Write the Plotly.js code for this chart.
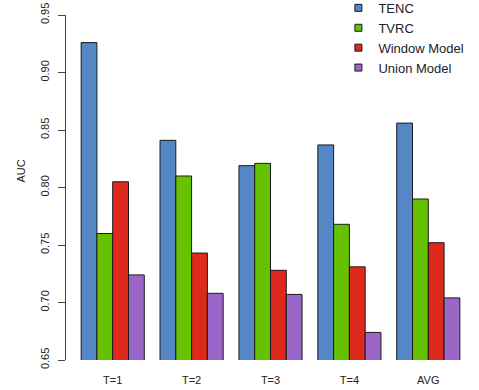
<!DOCTYPE html>
<html>
<head>
<meta charset="utf-8">
<script src="https://cdn.plot.ly/plotly-3.0.1.min.js"></script>
<style>html,body{margin:0;padding:0;background:#fff;}#chart{width:479px;height:390px;}</style>
</head>
<body>
<div id="chart"></div>
<script>
const categories = ["T=1", "T=2", "T=3", "T=4", "AVG"];
const seriesNames = ["TENC", "TVRC", "Window Model", "Union Model"];
const tenc   = [0.926, 0.841, 0.819, 0.837, 0.856];
const tvrc   = [0.760, 0.810, 0.821, 0.768, 0.790];
const window_ = [0.805, 0.743, 0.728, 0.731, 0.752];
const union  = [0.724, 0.708, 0.707, 0.674, 0.704];
const yTicks = [0.65, 0.70, 0.75, 0.80, 0.85, 0.90, 0.95];
const colors = ["#5586C6", "#66C100", "#DD2A1C", "#9A66C8"];

const values = [tenc, tvrc, window_, union];
const traces = [];
values.forEach((v, i) => {
  traces.push({
    type: "bar", x: categories, y: v,
    marker: {color: colors[i], line: {color: "#1a1a1a", width: 1}},
    showlegend: false, hoverinfo: "y"
  });
});
values.forEach((v, i) => {
  traces.push({
    type: "scatter", mode: "markers", x: [null], y: [null], name: seriesNames[i],
    marker: {symbol: "square", size: 7, color: colors[i], line: {color: "#1a1a1a", width: 1}},
    showlegend: true
  });
});

const layout = {
  width: 479, height: 390,
  margin: {l: 65.5, r: 3.5, t: 15, b: 30, pad: 0, autoexpand: false},
  paper_bgcolor: "#fff", plot_bgcolor: "#fff",
  font: {family: "Liberation Sans, Arial, sans-serif", color: "#222", size: 11},
  barmode: "group", bargap: 0.2, bargroupgap: 0,
  xaxis: {
    type: "category", range: [-0.592, 4.592], showline: false, showgrid: false, zeroline: false,
    ticks: "", tickfont: {size: 11}, ticklabelstandoff: 12, automargin: false
  },
  yaxis: {
    range: [0.65, 0.95], tickvals: yTicks, ticktext: yTicks.map(t => t.toFixed(2)),
    showline: true, linecolor: "#444", linewidth: 1, ticks: "outside", ticklen: 7, tickcolor: "#444",
    showgrid: false, zeroline: false, tickangle: -90, tickfont: {size: 11}, ticklabelstandoff: 5,
    automargin: false
  },
  annotations: [{
    text: "AUC", xref: "paper", yref: "paper", x: -0.111, y: 0.548,
    xanchor: "center", yanchor: "middle", textangle: -90, showarrow: false,
    font: {size: 11, color: "#222"}
  }],
  legend: {
    x: 0.666, xanchor: "left", y: 1.064, yanchor: "top",
    font: {size: 13}, bgcolor: "rgba(0,0,0,0)", borderwidth: 0, tracegroupgap: 0
  },
  showlegend: true
};
Plotly.newPlot("chart", traces, layout, {displayModeBar: false, staticPlot: true});
</script>
</body>
</html>
